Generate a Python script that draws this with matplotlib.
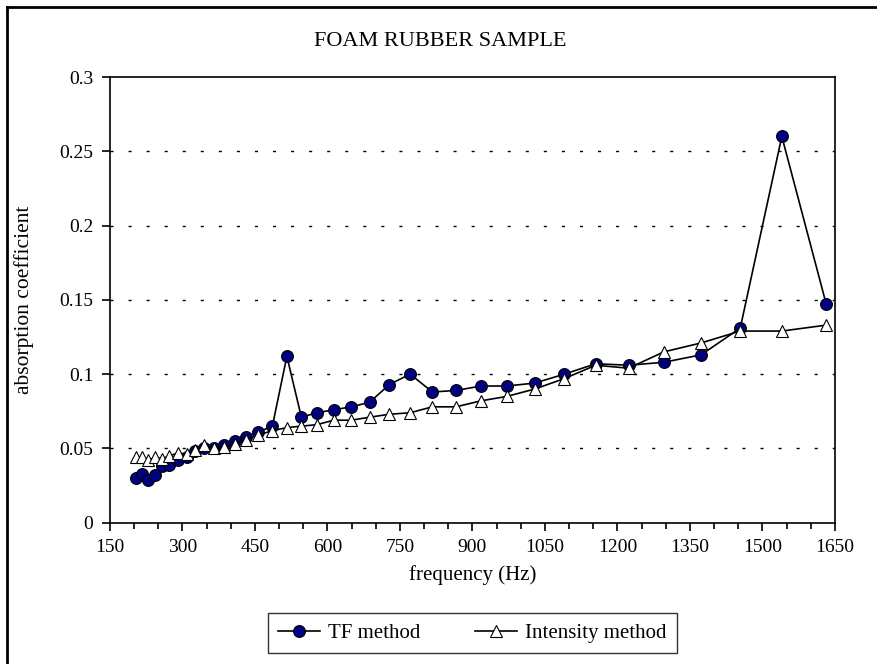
import numpy as np
import matplotlib
matplotlib.use('Agg')
import matplotlib.pyplot as plt
from matplotlib.lines import Line2D
from matplotlib.ticker import MultipleLocator

# frequencies (Hz)
freq = [204, 217, 229, 244, 258, 273, 291, 309, 326, 345, 365, 386, 409,
        432, 457, 486, 516, 546, 578, 613, 649, 687, 728, 771, 817, 866,
        917, 971, 1029, 1090, 1155, 1223, 1296, 1373, 1454, 1540, 1632]

tf_method = [0.030, 0.033, 0.029, 0.032, 0.038, 0.039, 0.042, 0.044, 0.048,
             0.050, 0.050, 0.052, 0.055, 0.058, 0.061, 0.065, 0.112, 0.071,
             0.074, 0.076, 0.078, 0.081, 0.093, 0.100, 0.088, 0.089, 0.092,
             0.092, 0.094, 0.100, 0.107, 0.106, 0.108, 0.113, 0.131, 0.260,
             0.147]

intensity_method = [0.044, 0.044, 0.042, 0.044, 0.043, 0.045, 0.047, 0.046,
                    0.049, 0.052, 0.050, 0.051, 0.053, 0.056, 0.059, 0.062,
                    0.064, 0.065, 0.066, 0.069, 0.069, 0.071, 0.073, 0.074,
                    0.078, 0.078, 0.082, 0.085, 0.090, 0.097, 0.106, 0.104,
                    0.115, 0.121, 0.129, 0.129, 0.133]

plt.rcParams['font.family'] = ['Liberation Serif', 'DejaVu Serif']

fig = plt.figure(figsize=(8.77, 6.64), dpi=100)
ax = fig.add_axes([0.1254, 0.2128, 0.8267, 0.6712])

ax.plot(freq, tf_method, color='black', lw=1.2, marker='o', ms=8.5,
        mfc='#000080', mec='black', mew=0.8, label='TF method')
ax.plot(freq, intensity_method, color='black', lw=1.2, marker='^', ms=8.5,
        mfc='white', mec='black', mew=0.8, label='Intensity method')

ax.set_xlim(150, 1650)
ax.set_ylim(0, 0.3)
ax.xaxis.set_major_locator(MultipleLocator(150))
ax.xaxis.set_minor_locator(MultipleLocator(50))
ax.set_yticks([0, 0.05, 0.1, 0.15, 0.2, 0.25, 0.3])
ax.set_yticklabels(['0', '0.05', '0.1', '0.15', '0.2', '0.25', '0.3'])

ax.tick_params(axis='both', which='major', direction='out', length=6,
               width=1.2, labelsize=14, pad=6)
ax.tick_params(axis='x', which='minor', direction='out', length=4, width=1.2)

for y in [0.05, 0.1, 0.15, 0.2, 0.25]:
    ax.axhline(y, color='black', lw=1.0, ls=(0, (2.2, 10.8)), zorder=0)

for s in ax.spines.values():
    s.set_linewidth(1.2)

ax.set_xlabel('frequency (Hz)', fontsize=15, labelpad=6)
ax.set_ylabel('absorption coefficient', fontsize=15.5, labelpad=18)
fig.text(0.502, 0.938, 'FOAM RUBBER SAMPLE', ha='center', va='center',
         fontsize=16)

leg = ax.legend(loc='center', bbox_to_anchor=(0.5, -0.2475), ncol=2,
                frameon=True, fancybox=False, edgecolor='black', fontsize=15,
                handlelength=2.0, columnspacing=2.6, borderpad=0.5,
                handletextpad=0.4)
leg.get_frame().set_linewidth(1.0)

# outer border (top and left only)
fig.add_artist(Line2D([0.008, 0.008], [0, 0.989], transform=fig.transFigure,
                      color='black', lw=2))
fig.add_artist(Line2D([0.008, 1.0], [0.989, 0.989], transform=fig.transFigure,
                      color='black', lw=2))

plt.savefig('out.png', dpi=100)
